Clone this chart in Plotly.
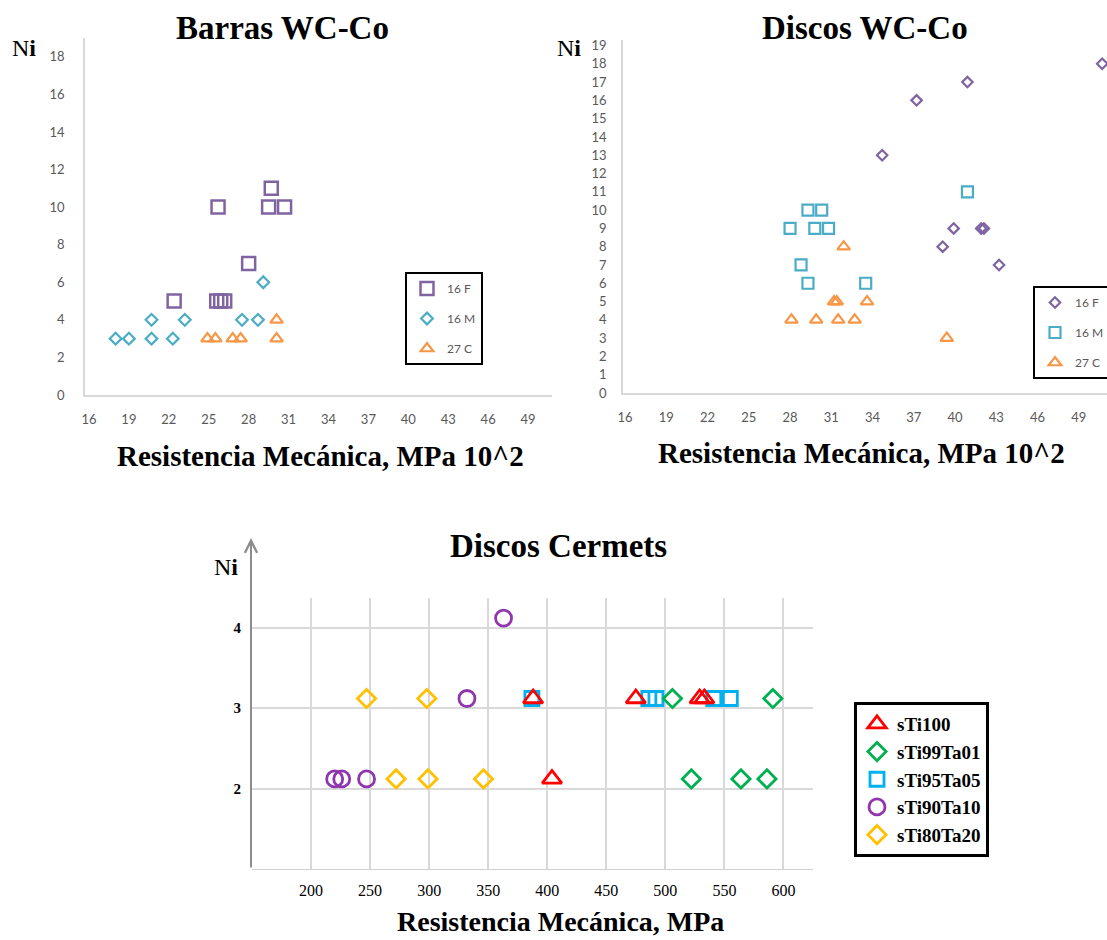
import plotly.graph_objects as go

# ---- Barras WC-Co (resistencia en MPa x 10^2, Ni) ----
barras_16F_x = [25.7, 29.7, 29.5, 30.7, 28.0, 22.4, 25.6, 25.9, 26.2]
barras_16F_y = [10, 11, 10, 10, 7, 5, 5, 5, 5]
barras_16M_x = [18.0, 19.0, 20.7, 20.7, 22.3, 23.2, 27.5, 28.7, 29.1]
barras_16M_y = [3, 3, 3, 4, 3, 4, 4, 4, 6]
barras_27C_x = [24.9, 25.5, 26.8, 27.4, 30.1, 30.1]
barras_27C_y = [3, 3, 3, 3, 4, 3]

# ---- Discos WC-Co ----
discos_16F_x = [50.7, 40.9, 37.2, 34.7, 39.9, 41.9, 42.1, 39.1, 43.2]
discos_16F_y = [18, 17, 16, 13, 9, 9, 9, 8, 7]
discos_16M_x = [40.9, 28.0, 29.8, 30.8, 29.3, 30.3, 28.8, 29.3, 33.5]
discos_16M_y = [11, 9, 9, 9, 10, 10, 7, 6, 6]
discos_27C_x = [31.9, 31.2, 31.4, 33.6, 28.1, 29.9, 31.5, 32.7, 39.4]
discos_27C_y = [8, 5, 5, 5, 4, 4, 4, 4, 3]

# ---- Discos Cermets (MPa, Ni) ----
sTi100_x = [388, 475, 529, 533, 404]
sTi100_y = [3.12, 3.12, 3.12, 3.12, 2.12]
sTi99Ta01_x = [506, 591, 522, 564, 586]
sTi99Ta01_y = [3.12, 3.12, 2.12, 2.12, 2.12]
sTi95Ta05_x = [387, 486, 492, 541, 555]
sTi95Ta05_y = [3.12, 3.12, 3.12, 3.12, 3.12]
sTi90Ta10_x = [363, 332, 220, 226, 247]
sTi90Ta10_y = [4.12, 3.12, 2.12, 2.12, 2.12]
sTi80Ta20_x = [247, 298, 272, 299, 346]
sTi80Ta20_y = [3.12, 3.12, 2.12, 2.12, 2.12]

top_ticks_x = [16, 19, 22, 25, 28, 31, 34, 37, 40, 43, 46, 49]
barras_ticks_y = [0, 2, 4, 6, 8, 10, 12, 14, 16, 18]
discos_ticks_y = list(range(0, 20))
cermet_ticks_x = [200, 250, 300, 350, 400, 450, 500, 550, 600]
cermet_ticks_y = [2, 3, 4]

W, H = 1107, 940
PURPLE, TEAL, ORANGE = "#8064A2", "#4BACC6", "#F79646"
SERIF = "Liberation Serif"
SANS = "Lato"


def px(x):
    return x / W


def py(y):
    return 1 - y / H


fig = go.Figure()


def add(x, y, name, symbol, color, size, lw, xa, ya, legend, rank):
    fig.add_trace(go.Scatter(
        x=x, y=y, mode="markers", name=name, xaxis=xa, yaxis=ya,
        legend=legend, legendgroup=legend + name, legendrank=rank,
        marker=dict(symbol=symbol, size=size, color=color,
                    line=dict(color=color, width=lw)),
        cliponaxis=False,
    ))


add(barras_16F_x, barras_16F_y, "16 F", "square-open", PURPLE, 13, 2.5, "x", "y", "legend", 1)
add(barras_16M_x, barras_16M_y, "16 M", "diamond-open", TEAL, 9, 2.2, "x", "y", "legend", 2)
add(barras_27C_x, barras_27C_y, "27 C", "triangle-up-open", ORANGE, 11, 2.2, "x", "y", "legend", 3)

add(discos_16F_x, discos_16F_y, "16 F", "diamond-open", PURPLE, 8, 2.2, "x2", "y2", "legend2", 1)
add(discos_16M_x, discos_16M_y, "16 M", "square-open", TEAL, 11, 2.2, "x2", "y2", "legend2", 2)
add(discos_27C_x, discos_27C_y, "27 C", "triangle-up-open", ORANGE, 11, 2.2, "x2", "y2", "legend2", 3)

add(sTi95Ta05_x, sTi95Ta05_y, "sTi95Ta05", "square-open", "#00B0F0", 14, 2.8, "x3", "y3", "legend3", 3)
add(sTi100_x, sTi100_y, "sTi100", "triangle-up-open", "#FF0000", 17, 2.8, "x3", "y3", "legend3", 1)
add(sTi99Ta01_x, sTi99Ta01_y, "sTi99Ta01", "diamond-open", "#00B050", 14, 2.8, "x3", "y3", "legend3", 2)
add(sTi90Ta10_x, sTi90Ta10_y, "sTi90Ta10", "circle-open", "#9035AE", 16, 2.8, "x3", "y3", "legend3", 4)
add(sTi80Ta20_x, sTi80Ta20_y, "sTi80Ta20", "diamond-open", "#FFC000", 14, 2.8, "x3", "y3", "legend3", 5)

top_tick_font = dict(family=SANS, size=13, color="#595959")
top_axis = dict(showgrid=False, zeroline=False, showline=True, linecolor="#D9D9D9",
                linewidth=1.5, ticks="", tickfont=top_tick_font)

fig.update_layout(
    width=W, height=H,
    margin=dict(l=0, r=0, t=0, b=0, autoexpand=False),
    plot_bgcolor="white", paper_bgcolor="white",
    xaxis=dict(top_axis, domain=[px(85), px(552)], range=[15.7, 50.8],
               tickvals=top_ticks_x, ticklabelstandoff=12, anchor="y"),
    yaxis=dict(top_axis, domain=[py(395), py(38)], range=[0, 19],
               tickvals=barras_ticks_y, ticklabelstandoff=16, anchor="x"),
    xaxis2=dict(top_axis, domain=[px(623), 1.0], range=[15.85, 51.05],
                tickvals=top_ticks_x, ticklabelstandoff=12, anchor="y2"),
    yaxis2=dict(top_axis, domain=[py(393), py(40)], range=[0, 19.3],
                tickvals=discos_ticks_y, ticklabelstandoff=12, anchor="x2"),
    xaxis3=dict(domain=[px(252), px(813)], range=[150, 625], tickvals=cermet_ticks_x,
                showgrid=True, gridcolor="#D9D9D9", gridwidth=1.5, zeroline=False,
                showline=True, linecolor="#D0D0D0", linewidth=1, ticks="",
                tickfont=dict(family=SERIF, size=16, color="black"),
                ticklabelstandoff=7, anchor="y3"),
    yaxis3=dict(domain=[py(869), py(598)], range=[1, 4.37], tickvals=cermet_ticks_y,
                showgrid=True, gridcolor="#D9D9D9", gridwidth=1.5, zeroline=False,
                showline=False, ticks="",
                tickfont=dict(family=SERIF, size=15, color="black", weight="bold"),
                ticklabelstandoff=10, anchor="x3"),
    legend=dict(x=px(405), y=py(272), xanchor="left", yanchor="top",
                bordercolor="black", borderwidth=2, bgcolor="white",
                font=dict(family=SANS, size=12, color="#595959"),
                tracegroupgap=11, itemwidth=30),
    legend2=dict(x=px(1033), y=py(286), xanchor="left", yanchor="top",
                 bordercolor="black", borderwidth=2, bgcolor="white",
                 font=dict(family=SANS, size=12, color="#595959"),
                 tracegroupgap=11, itemwidth=30),
    legend3=dict(x=px(854), y=py(702), xanchor="left", yanchor="top",
                 bordercolor="black", borderwidth=3, bgcolor="white",
                 font=dict(family=SERIF, size=19, color="black", weight="bold"),
                 tracegroupgap=0, itemwidth=30),
    showlegend=True,
)

title_font = dict(family=SERIF, size=33, color="black", weight="bold")
axis_title_font = dict(family=SERIF, size=29, color="black", weight="bold")
axis_title_font3 = dict(family=SERIF, size=28, color="black", weight="bold")
ni_font = dict(family=SERIF, size=24, color="black")

annotations = [
    dict(text="Barras WC-Co", x=px(282), y=py(28), font=title_font),
    dict(text="Discos WC-Co", x=px(865), y=py(28), font=title_font),
    dict(text="Discos Cermets", x=px(558), y=py(546), font=title_font),
    dict(text="Resistencia Mecánica, MPa 10^2", x=px(320), y=py(456), font=axis_title_font),
    dict(text="Resistencia Mecánica, MPa 10^2", x=px(861), y=py(453), font=axis_title_font),
    dict(text="Resistencia Mecánica, MPa", x=px(560), y=py(921), font=axis_title_font3),
    dict(text="N<b>i</b>", x=px(24), y=py(48), font=ni_font),
    dict(text="N<b>i</b>", x=px(569), y=py(48), font=ni_font),
    dict(text="N<b>i</b>", x=px(226), y=py(567), font=ni_font),
]
for a in annotations:
    a.update(xref="paper", yref="paper", showarrow=False, xanchor="center", yanchor="middle")

# vertical axis of the cermet panel, drawn as an arrow pointing up
annotations.append(dict(
    xref="paper", yref="paper", x=px(251), y=py(538), axref="pixel", ayref="pixel",
    ax=0, ay=331, showarrow=True, arrowhead=5, arrowsize=1.2, arrowwidth=2,
    arrowcolor="#8C8C8C", text="",
))
fig.update_layout(annotations=annotations)

fig.write_html("out.html")
